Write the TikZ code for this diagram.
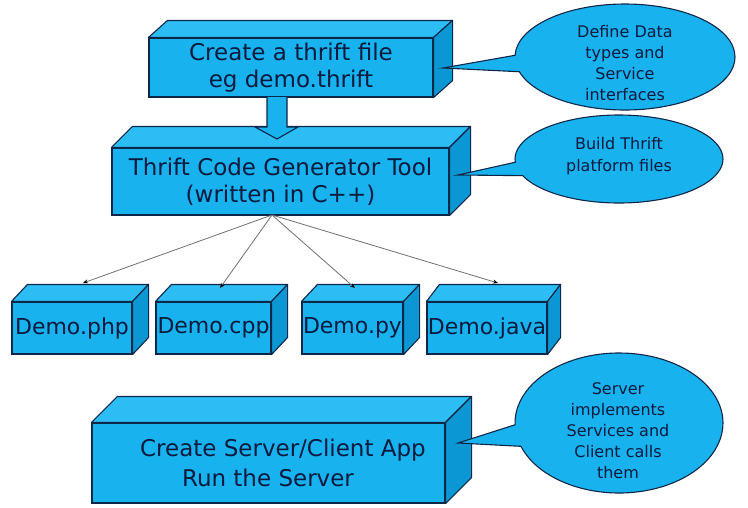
\documentclass[tikz,border=0pt]{standalone}
\usepackage{fontspec}
\setmainfont{DejaVu Sans}
\usetikzlibrary{shapes.callouts,arrows.meta}
\definecolor{frontc}{HTML}{18B2EE}
\definecolor{topc}{HTML}{2BBDF3}
\definecolor{sidec}{HTML}{0A97D4}
\definecolor{edgec}{HTML}{0D2748}
\definecolor{txtc}{HTML}{081A3E}
\definecolor{fanc}{HTML}{707070}
\newcommand{\boxfaces}[3]{%
  \draw[topface] (#1.north west) -- ++(#2,#3) -- ([shift={(#2,#3)}]#1.north east) -- (#1.north east) -- cycle;
  \draw[sideface] (#1.north east) -- ([shift={(#2,#3)}]#1.north east) -- ([shift={(#2,#3)}]#1.south east) -- (#1.south east) -- cycle;}
\begin{document}
\begin{tikzpicture}[x=1pt,y=-1pt,
  frontface/.style={draw=edgec, fill=frontc, line width=1.1pt, inner sep=0pt, text=txtc, align=center},
  topface/.style={draw=edgec, fill=topc, line width=1.1pt, line join=round},
  sideface/.style={draw=edgec, fill=sidec, line width=1.1pt, line join=round},
  bigtext/.style={font=\fontsize{23}{27}\selectfont, text=txtc, align=center},
  demotext/.style={font=\fontsize{22}{26}\selectfont},
  bubble/.style={ellipse callout, draw=edgec, fill=frontc, line width=1.1pt, inner sep=0pt, callout pointer arc=18},
  bubtext/.style={font=\fontsize{16}{21}\selectfont, text=txtc, align=center},
  fanline/.style={draw=fanc, line width=0.8pt, -{Stealth[length=5pt,width=4pt,color=black]}},
  blockarrow/.style={fill=frontc},
  blockedge/.style={draw=edgec, line width=1.1pt, line join=miter}]
\useasboundingbox (0,0) rectangle (748,507);

% box 1
\node[frontface, bigtext, minimum width=284, minimum height=59] (b1) at (291,67.5) {Create a thrift file\\eg demo.thrift};
\boxfaces{b1}{19}{-17}

% box 2
\node[frontface, bigtext, minimum width=337, minimum height=67] (b2) at (280.5,181.5) {Thrift Code Generator Tool\\(written in C++)};
\boxfaces{b2}{21}{-21}

% block arrow b1 -> b2
\coordinate (arrtop) at (277,97);
\fill[blockarrow] (arrtop) ++(-10,0) -- ++(0,30) -- ++(-12,0) -- ++(22,12) -- ++(21,-12) -- ++(-11,0) -- ++(0,-30) -- cycle;
\draw[blockedge] (arrtop) ++(-10,0) -- ++(0,30) -- ++(-12,0) -- ++(22,12) -- ++(21,-12) -- ++(-11,0) -- ++(0,-30);

% demo boxes
\node[frontface, demotext, minimum width=120, minimum height=52] (dphp) at (72,328) {Demo.php};
\boxfaces{dphp}{16}{-17}
\node[frontface, demotext, minimum width=115, minimum height=52] (dcpp) at (213.5,328) {Demo.cpp};
\boxfaces{dcpp}{16}{-17}
\node[frontface, demotext, minimum width=101, minimum height=52] (dpy) at (352.5,328) {Demo.py};
\boxfaces{dpy}{16}{-17}
\node[frontface, demotext, minimum width=120, minimum height=52] (djava) at (487,328) {Demo.java};
\boxfaces{djava}{13}{-17}

% fan arrows
\coordinate (fo) at (272,215);
\coordinate (tphp) at (83,283);
\coordinate (tcpp) at (220,288);
\coordinate (tpy) at (355,288);
\coordinate (tjava) at (498,283);
\draw[fanline] (fo) -- (tphp);
\draw[fanline] (fo) -- (tcpp);
\draw[fanline] (fo) -- (tpy);
\draw[fanline] (fo) -- (tjava);

% box 4
\node[frontface, minimum width=353, minimum height=80] (b4) at (268.5,463) {};
\boxfaces{b4}{26}{-26}
\node[bigtext] (s1) at (283,450) {Create Server/Client App};
\node[bigtext] (s2) at (268,478) {Run the Server};

% callouts
\coordinate (p1) at (443,68);
\node[bubble, minimum width=220, minimum height=106, callout absolute pointer={(p1)}] (c1) at (625,57) {};
\node[bubtext] (ct1) at (625,63.5) {Define Data\\types and\\Service\\interfaces};

\coordinate (p2) at (458,175);
\node[bubble, minimum width=208, minimum height=88, callout absolute pointer={(p2)}] (c2) at (619,159) {};
\node[bubtext, font=\fontsize{16}{22}\selectfont] (ct2) at (619,156) {Build Thrift\\platform files};

\coordinate (p3) at (458,443);
\node[bubble, minimum width=208, minimum height=140, callout absolute pointer={(p3)}] (c3) at (619,423) {};
\node[bubtext] (ct3) at (618,431) {Server\\implements\\Services and\\Client calls\\them};
\end{tikzpicture}
\end{document}
